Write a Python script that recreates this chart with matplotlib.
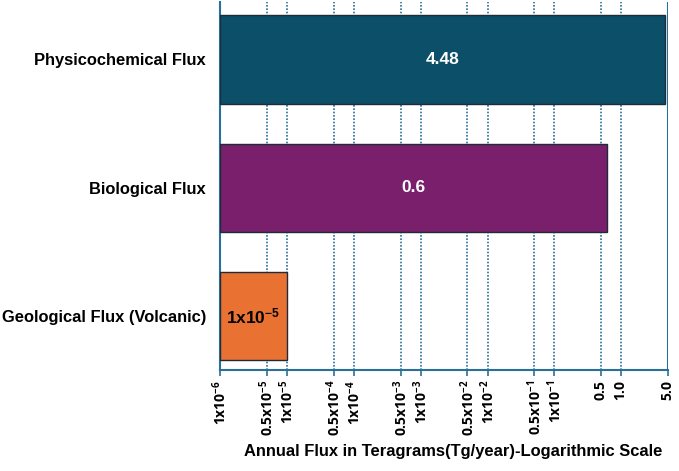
import numpy as np
import matplotlib
matplotlib.use("Agg")
import matplotlib.pyplot as plt

plt.rcParams["font.family"] = ["Liberation Sans", "DejaVu Sans"]
plt.rcParams["mathtext.fontset"] = "custom"
plt.rcParams["mathtext.rm"] = "Liberation Sans:bold"
plt.rcParams["mathtext.bf"] = "Open Sans:bold"
plt.rcParams["mathtext.it"] = "Liberation Sans:bold"
plt.rcParams["axes.unicode_minus"] = False

# data
categories = ["Geological Flux (Volcanic)", "Biological Flux", "Physicochemical Flux"]
values = [1e-5, 0.6, 4.48]
bar_labels = [r"$\mathrm{1x10^{-5}}$", "0.6", "4.48"]
bar_colors = ["#e97132", "#7a1f6b", "#0b4f68"]
label_colors = ["black", "white", "white"]

tick_vals = [1e-6, 5e-6, 1e-5, 5e-5, 1e-4, 5e-4, 1e-3, 5e-3, 1e-2, 5e-2, 1e-1, 0.5, 1.0, 5.0]
tick_text = [r"$\mathbf{1x10^{-6}}$",
             r"$\mathbf{0.5x10^{-5}}$", r"$\mathbf{1x10^{-5}}$",
             r"$\mathbf{0.5x10^{-4}}$", r"$\mathbf{1x10^{-4}}$",
             r"$\mathbf{0.5x10^{-3}}$", r"$\mathbf{1x10^{-3}}$",
             r"$\mathbf{0.5x10^{-2}}$", r"$\mathbf{1x10^{-2}}$",
             r"$\mathbf{0.5x10^{-1}}$", r"$\mathbf{1x10^{-1}}$",
             r"$\mathbf{0.5}$", r"$\mathbf{1.0}$", r"$\mathbf{5.0}$"]

blue = "#2a6f97"
xmin = 1e-6

fig = plt.figure(figsize=(6.79, 4.71), dpi=100)
ax = fig.add_axes([0.324, 0.2144, 0.66, 0.782])

ypos = np.arange(len(categories))
left = xmin
bars = ax.barh(ypos, [v - left for v in values], left=left, height=0.69,
               color=bar_colors, edgecolor="#1e2b38", linewidth=1.0, zorder=3)

ax.set_xscale("log")
ax.set_xlim(xmin, 5.0)
ax.set_ylim(-0.42, 2.45)

# dotted grid lines at inner ticks, solid line at 5.0
for t in tick_vals[1:-1]:
    ax.axvline(t, color=blue, linestyle=(0, (1, 1)), linewidth=1.2, zorder=1)
ax.axvline(5.0, color=blue, linewidth=1.5, zorder=1)

ax.set_xticks(tick_vals)
ax.set_xticklabels(tick_text, rotation=90, fontsize=10)
ax.minorticks_off()
ax.tick_params(axis="x", colors=blue, length=4, width=1.2, labelcolor="black", pad=3)
ax.tick_params(axis="y", length=0, pad=10)

ax.set_yticks(ypos)
ax.set_yticklabels(categories, fontsize=11.9, fontweight="bold")

for s in ["top", "right"]:
    ax.spines[s].set_visible(False)
for s in ["left", "bottom"]:
    ax.spines[s].set_color(blue)
    ax.spines[s].set_linewidth(1.5)

# value labels centred on bars (log space)
for y, v, lab, c in zip(ypos, values, bar_labels, label_colors):
    xc = np.sqrt(xmin * v)
    ax.text(xc, y, lab, ha="center", va="center", color=c,
            fontsize=12.5, fontweight="bold", zorder=4)

ax.set_xlabel("Annual Flux in Teragrams(Tg/year)-Logarithmic Scale",
              fontsize=11.9, fontweight="bold")
ax.xaxis.set_label_coords(0.52, -0.2)

fig.savefig("out.png", dpi=100)
